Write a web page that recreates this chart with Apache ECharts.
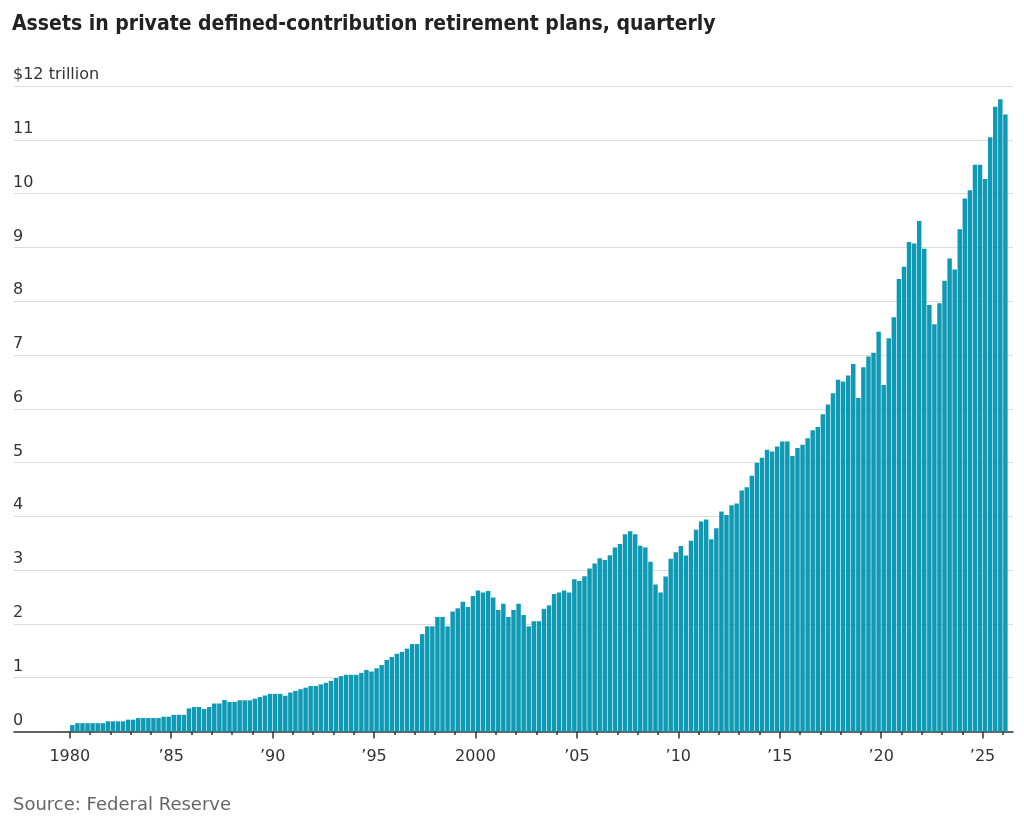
<!DOCTYPE html>
<html>
<head>
<meta charset="utf-8">
<script src="https://cdn.jsdelivr.net/npm/echarts@6/dist/echarts.min.js"></script>
<style>
  html, body { margin: 0; padding: 0; background: #fff; }
  #chart { width: 1024px; height: 820px; }
</style>
</head>
<body>
<div id="chart"></div>
<script>
// Quarterly assets, trillions of dollars (1980 Q1 onward)
const values1980s = [0.12, 0.155, 0.155, 0.155, 0.155, 0.155, 0.155, 0.19, 0.19, 0.19,
  0.19, 0.22, 0.22, 0.25, 0.25, 0.25, 0.25, 0.25, 0.275, 0.275,
  0.31, 0.31, 0.31, 0.43, 0.455, 0.455, 0.42, 0.455, 0.52, 0.52,
  0.585, 0.55, 0.55, 0.58, 0.58, 0.58, 0.61, 0.64, 0.67, 0.70];
const values1990s = [0.70, 0.70, 0.665, 0.725, 0.755, 0.785, 0.815, 0.845, 0.845, 0.875,
  0.905, 0.94, 0.995, 1.03, 1.055, 1.055, 1.055, 1.09, 1.145, 1.115,
  1.175, 1.235, 1.33, 1.385, 1.445, 1.48, 1.54, 1.625, 1.625, 1.81,
  1.955, 1.955, 2.13, 2.13, 1.955, 2.23, 2.29, 2.41, 2.315, 2.52];
const values2000s = [2.62, 2.585, 2.61, 2.49, 2.26, 2.375, 2.13, 2.26, 2.375, 2.165,
  1.955, 2.05, 2.05, 2.28, 2.345, 2.555, 2.585, 2.62, 2.585, 2.83,
  2.80, 2.885, 3.03, 3.125, 3.22, 3.19, 3.275, 3.42, 3.485, 3.665,
  3.725, 3.665, 3.455, 3.42, 3.155, 2.735, 2.585, 2.88, 3.21, 3.33];
const values2010s = [3.45, 3.27, 3.545, 3.75, 3.905, 3.94, 3.575, 3.78, 4.09, 4.025,
  4.205, 4.24, 4.48, 4.54, 4.755, 4.995, 5.09, 5.24, 5.205, 5.30,
  5.39, 5.39, 5.12, 5.27, 5.33, 5.45, 5.60, 5.66, 5.90, 6.08,
  6.29, 6.54, 6.505, 6.62, 6.83, 6.20, 6.77, 6.97, 7.04, 7.43];
const values2020s = [6.44, 7.31, 7.70, 8.41, 8.64, 9.10, 9.07, 9.49, 8.975, 7.93,
  7.57, 7.96, 8.38, 8.795, 8.59, 9.335, 9.91, 10.06, 10.535, 10.535,
  10.27, 11.045, 11.615, 11.755, 11.47];

const titleText = 'Assets in private defined-contribution retirement plans, quarterly';
const sourceText = 'Source: Federal Reserve';
const yTickValues = [0, 1, 2, 3, 4, 5, 6, 7, 8, 9, 10, 11, 12];
const yTopLabel = '$12 trillion';
const tickStartYear = 1980;   // first yearly tick / label
const tickEndYear = 2026;     // last yearly tick
const majorEndYear = 2025;    // last 5-year tick

// Quarter categories: 1977 Q2 .. 2026 Q2 (leading/trailing quarters are empty axis room)
const categories = [];
for (let y = 1977; y <= 2026; y++) {
  for (let q = 1; q <= 4; q++) {
    if (y === 1977 && q < 2) continue;
    if (y === 2026 && q > 2) continue;
    categories.push(y + ' Q' + q);
  }
}
const allValues = [].concat(values1980s, values1990s, values2000s, values2010s, values2020s);
const padBefore = categories.indexOf('1980 Q1');
const seriesData = categories.map((c, i) => {
  const k = i - padBefore;
  return (k >= 0 && k < allValues.length) ? allValues[k] : null;
});

function yearLabel(year) {
  if (year === 1980 || year % 100 === 0) return String(year);
  return '\u2019' + String(year).slice(2);
}

const W = 1024;
const gridLeft = 14, gridRight = 11, gridTop = 86, gridBottom = 88.5;
const bandW = (W - gridLeft - gridRight) / categories.length;
const yearStartX = gridLeft + padBefore * bandW;
const xOfYear = (yr) => yearStartX + (yr - tickStartYear) * 4 * bandW;

const labelFont = 'DejaVu Sans';
const hiddenY = (gi) => ({ type: 'value', gridIndex: gi, min: 0, max: 12, show: false });

const chart = echarts.init(document.getElementById('chart'), null, { renderer: 'canvas' });
chart.setOption({
  animation: false,
  title: {
    text: titleText,
    left: 12,
    top: 14,
    padding: 0,
    textStyle: {
      fontFamily: '"DejaVu Sans Condensed", "DejaVu Sans", sans-serif',
      fontWeight: 'bold',
      fontSize: 21,
      color: '#222'
    }
  },
  graphic: [{
    type: 'text',
    left: 13,
    top: 796,
    style: {
      text: sourceText,
      font: '18px "' + labelFont + '"',
      fill: '#666'
    }
  }],
  grid: [
    { left: gridLeft, right: gridRight, top: gridTop, bottom: gridBottom },
    { left: xOfYear(tickStartYear), right: W - xOfYear(tickEndYear), top: gridTop, bottom: gridBottom },
    { left: xOfYear(tickStartYear), right: W - xOfYear(majorEndYear), top: gridTop, bottom: gridBottom }
  ],
  xAxis: [{
    type: 'category',
    gridIndex: 0,
    data: categories,
    boundaryGap: true,
    axisLine: { show: true, lineStyle: { color: '#333', width: 1.5 } },
    axisTick: { show: false },
    axisLabel: { show: false },
    splitLine: { show: false }
  }, {
    type: 'value',
    gridIndex: 1,
    min: tickStartYear,
    max: tickEndYear,
    interval: 1,
    axisLine: { show: false },
    axisTick: { show: true, length: 3.5, lineStyle: { color: '#333', width: 1.5 } },
    axisLabel: {
      show: true,
      formatter: function (v) { return v % 5 === 0 ? yearLabel(v) : ''; },
      fontFamily: labelFont,
      fontSize: 16,
      color: '#333',
      margin: 17,
      showMinLabel: true,
      showMaxLabel: true
    },
    splitLine: { show: false }
  }, {
    type: 'value',
    gridIndex: 2,
    min: tickStartYear,
    max: majorEndYear,
    interval: 5,
    axisLine: { show: false },
    axisTick: { show: true, length: 7, lineStyle: { color: '#333', width: 1.5 } },
    axisLabel: { show: false },
    splitLine: { show: false }
  }],
  yAxis: [{
    type: 'value',
    gridIndex: 0,
    min: yTickValues[0],
    max: yTickValues[yTickValues.length - 1],
    interval: 1,
    axisLine: { show: false },
    axisTick: { show: false },
    splitLine: { show: true, lineStyle: { color: '#dcdcdc', width: 1.2 } },
    axisLabel: {
      inside: true,
      margin: -1,
      verticalAlign: 'bottom',
      padding: [0, 0, 3, 0],
      fontFamily: labelFont,
      fontSize: 16,
      color: '#333',
      formatter: function (v) { return v === 12 ? yTopLabel : String(v); }
    }
  }, hiddenY(1), hiddenY(2)],
  series: [{
    type: 'bar',
    xAxisIndex: 0,
    yAxisIndex: 0,
    data: seriesData,
    barCategoryGap: '12%',
    itemStyle: { color: '#0e9ab4' },
    silent: true
  }]
});
</script>
</body>
</html>
